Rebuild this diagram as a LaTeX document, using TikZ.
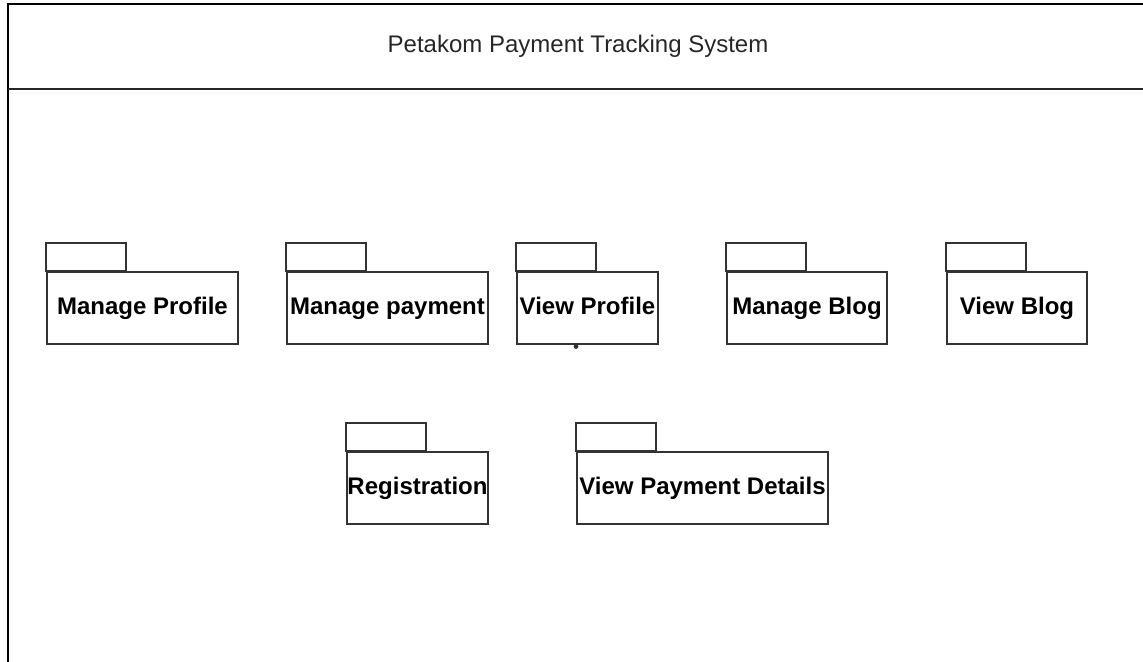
\documentclass[tikz,border=0pt]{standalone}
\usepackage{fontspec}
\setmainfont{Liberation Sans}
\usepackage{tikz}

\tikzset{
  pkg/.style = {draw = black!80, line width = 1pt, fill = white, inner sep = 0pt,
                text height = 8.6pt, text depth = 2.6pt,
                minimum height = 36pt, font = \fontsize{12pt}{14pt}\selectfont\bfseries},
  pkgtab/.style = {draw = black!80, line width = 1pt}
}

\begin{document}
\begin{tikzpicture}[x = 0.5pt, y = 0.5pt]
\useasboundingbox (0,0) rectangle (1143,661);
\clip (0,0) rectangle (1143,661);
% system frame
\draw[black, line width = 1pt] (8,-40) rectangle (1148,657);
\draw[black!85, line width = 1.2pt] (8,572) -- (1148,572);
\node[font = \fontsize{12pt}{14pt}\selectfont, text = black!85] (title) at (578,615) {Petakom Payment Tracking System};

% packages, first row
\node[pkg, minimum width = 95.5pt] (mprofile) at (142.5,353) {Manage Profile};
\node[pkg, minimum width = 100.5pt] (mpayment) at (387.5,353) {Manage payment};
\node[pkg, minimum width = 70.5pt] (vprofile) at (587.5,353) {View Profile};
\node[pkg, minimum width = 80pt] (mblog) at (807,353) {Manage Blog};
\node[pkg, minimum width = 70pt] (vblog) at (1017,353) {View Blog};
% packages, second row
\node[pkg, minimum width = 70.5pt] (regist) at (417.5,173) {Registration};
\node[pkg, minimum width = 125.5pt] (vpayment) at (702.5,173) {View Payment Details};

% tabs
\foreach \p in {mprofile, mpayment, vprofile, mblog, vblog, regist, vpayment}
  \draw[pkgtab] (\p.north west) rectangle ++(80,28);

\fill[black!80] (vprofile.south) ++(-11.5,-1.5) circle (1.2pt);
\end{tikzpicture}
\end{document}
